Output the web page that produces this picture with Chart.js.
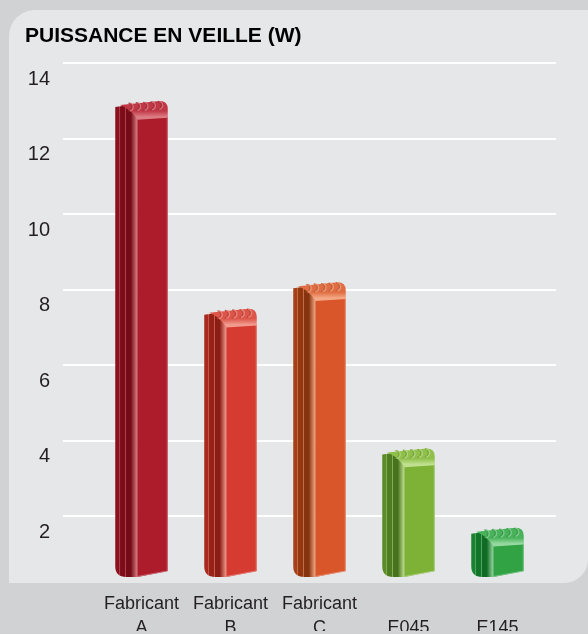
<!DOCTYPE html>
<html>
<head>
<meta charset="utf-8">
<script src="https://cdn.jsdelivr.net/npm/chart.js@4.4.1/dist/chart.umd.min.js"></script>
<style>
  html, body { margin: 0; padding: 0; background: #d1d2d4; }
  #wrap { width: 588px; height: 634px; position: relative; }
</style>
</head>
<body>
<div id="wrap"><canvas id="chart"></canvas></div>
<script>
const categories = [['Fabricant', 'A'], ['Fabricant', 'B'], ['Fabricant', 'C'], ['', 'E045'], ['', 'E145']];
const standbyWatts = [13, 7.5, 8.2, 3.8, 1.7];
const yTicks = [2, 4, 6, 8, 10, 12, 14];
const titleText = 'PUISSANCE EN VEILLE (W)';

// front face, side face, top cap, highlight
const barColors = [
    { front: '#ac1c2b', side: '#7e0c18', cap: '#c03845', hi: '#dc7c84' },
    { front: '#d53b30', side: '#972116', cap: '#dd5448', hi: '#f29a8e' },
    { front: '#d9562a', side: '#923710', cap: '#e06e42', hi: '#f4a885' },
    { front: '#7db236', side: '#4e7c21', cap: '#8fc049', hi: '#c0e090' },
    { front: '#31a345', side: '#127428', cap: '#48b35a', hi: '#95d8a0' }
];

const FONT = "'Liberation Sans', Arial, Helvetica, sans-serif";

function mix(a, b, t) {
    const pa = [1, 3, 5].map(i => parseInt(a.substr(i, 2), 16));
    const pb = [1, 3, 5].map(i => parseInt(b.substr(i, 2), 16));
    const m = pa.map((v, i) => Math.round(v + (pb[i] - v) * t));
    return 'rgb(' + m.join(',') + ')';
}

function drawBar(ctx, bar, c) {
    const { x, y, base, width } = bar.getProps(['x', 'y', 'base', 'width'], true);
    const L = x - width / 2, R = x + width / 2;
    const s = width * 0.42, F = L + s;
    const capD = 18, cr = 8, br = 11;

    // rounded side
    let g = ctx.createLinearGradient(L, 0, F, 0);
    const sideMid = mix(c.side, c.front, 0.3);
    const sideDark = mix(c.side, '#000000', 0.08);
    const stripe = mix(c.side, c.hi, 0.55);
    g.addColorStop(0, sideMid);
    g.addColorStop(0.17, sideMid);
    g.addColorStop(0.2, stripe);
    g.addColorStop(0.24, c.side);
    g.addColorStop(0.43, c.side);
    g.addColorStop(0.47, stripe);
    g.addColorStop(0.51, sideDark);
    g.addColorStop(0.7, sideDark);
    g.addColorStop(1, c.hi);
    ctx.beginPath();
    ctx.moveTo(L, y + 6);
    ctx.lineTo(F, y + 3);
    ctx.lineTo(F, base + 2);
    ctx.lineTo(L + br, base + 2);
    ctx.quadraticCurveTo(L, base + 2, L, base + 2 - br);
    ctx.closePath();
    ctx.fillStyle = g;
    ctx.fill();

    // front face
    ctx.beginPath();
    ctx.moveTo(F, y + capD);
    ctx.lineTo(R, y + capD - 2);
    ctx.lineTo(R, base - 4);
    ctx.lineTo(F, base + 2);
    ctx.closePath();
    ctx.fillStyle = c.front;
    ctx.fill();

    ctx.lineWidth = 1;
    ctx.strokeStyle = mix(c.front, '#ffffff', 0.35);
    ctx.beginPath();
    ctx.moveTo(R - 0.5, y + capD - 2);
    ctx.lineTo(R - 0.5, base - 4);
    ctx.lineTo(F, base + 1.5);
    ctx.stroke();

    // top cap
    g = ctx.createLinearGradient(0, y, 0, y + capD);
    g.addColorStop(0, c.cap);
    g.addColorStop(0.55, c.cap);
    g.addColorStop(0.88, c.hi);
    g.addColorStop(1, c.hi);
    ctx.beginPath();
    ctx.moveTo(L + s * 0.22, y + 4);
    ctx.lineTo(R - cr, y);
    ctx.quadraticCurveTo(R, y, R, y + cr);
    ctx.lineTo(R, y + capD - 2);
    ctx.lineTo(F, y + capD);
    ctx.quadraticCurveTo(F - s * 0.3, y + capD * 0.45, L + s * 0.22, y + 4);
    ctx.closePath();
    ctx.fillStyle = g;
    ctx.fill();

    // ridges on the cap
    const x0 = F - 8, x1 = R - cr - 1;
    for (let i = 0; i < 5; i++) {
        const cx = x0 + i * (x1 - x0) / 4;
        const cy = y + 6 - i * 0.4;
        ctx.lineWidth = 1.2;
        ctx.strokeStyle = mix(c.cap, '#000000', 0.15);
        ctx.beginPath();
        ctx.arc(cx - 1.5, cy, 4, -Math.PI * 0.45, Math.PI * 0.45);
        ctx.stroke();
        ctx.strokeStyle = mix(c.cap, '#ffffff', 0.3);
        ctx.beginPath();
        ctx.arc(cx, cy, 4, -Math.PI * 0.45, Math.PI * 0.45);
        ctx.stroke();
    }

    ctx.strokeStyle = c.hi;
    ctx.lineWidth = 1.5;
    ctx.beginPath();
    ctx.moveTo(F, y + capD);
    ctx.lineTo(R, y + capD - 2);
    ctx.stroke();
}

const panel = {
    id: 'panel',
    beforeDraw(chart) {
        const { ctx, width } = chart;
        ctx.save();
        ctx.fillStyle = '#d1d2d4';
        ctx.fillRect(0, 0, width, chart.height);
        const x0 = 9, y0 = 10, x1 = width, y1 = 583;
        ctx.beginPath();
        ctx.moveTo(x0, y1);
        ctx.arcTo(x0, y0, x1, y0, 26);
        ctx.lineTo(x1, y0);
        ctx.arcTo(x1, y1, x0, y1, 24);
        ctx.lineTo(x0, y1);
        ctx.closePath();
        ctx.fillStyle = '#e6e7e8';
        ctx.fill();
        ctx.restore();
    }
};

const gridLines = {
    id: 'gridLines',
    beforeDatasetsDraw(chart) {
        const { ctx, chartArea, scales } = chart;
        ctx.save();
        ctx.strokeStyle = '#ffffff';
        ctx.lineWidth = 2;
        yTicks.forEach(v => {
            const py = Math.round(scales.y.getPixelForValue(v));
            ctx.beginPath();
            ctx.moveTo(chartArea.left - 34, py);
            ctx.lineTo(chartArea.right + 14, py);
            ctx.stroke();
        });
        ctx.restore();
    }
};

const bars3d = {
    id: 'bars3d',
    afterDatasetsDraw(chart) {
        const ctx = chart.ctx;
        ctx.save();
        chart.getDatasetMeta(0).data.forEach((bar, i) => drawBar(ctx, bar, barColors[i]));
        ctx.restore();
    }
};

new Chart(document.getElementById('chart').getContext('2d'), {
    type: 'bar',
    data: {
        labels: categories,
        datasets: [{
            label: titleText,
            data: standbyWatts,
            base: 0.45,
            backgroundColor: 'rgba(0,0,0,0)',
            borderWidth: 0,
            categoryPercentage: 1,
            barPercentage: 0.59
        }]
    },
    options: {
        responsive: true,
        maintainAspectRatio: false,
        animation: false,
        devicePixelRatio: 1,
        layout: { padding: { top: 0, left: 25, right: 46, bottom: 0 } },
        plugins: {
            legend: { display: false },
            tooltip: { enabled: false },
            title: {
                display: true,
                text: titleText,
                align: 'start',
                color: '#000000',
                font: { family: FONT, size: 21, weight: 'bold' },
                padding: { top: 24, bottom: 14 }
            }
        },
        scales: {
            x: {
                afterFit: s => { s.height = 56; },
                grid: { display: false, drawTicks: false },
                border: { display: false },
                ticks: {
                    padding: 17,
                    color: '#231f20',
                    maxRotation: 0,
                    autoSkip: false,
                    font: { family: FONT, size: 18, lineHeight: 1.33 }
                }
            },
            y: {
                min: 0.45,
                max: 14,
                afterBuildTicks: s => { s.ticks = yTicks.map(v => ({ value: v })); },
                afterFit: s => { s.width = 72; },
                grid: { display: false, drawTicks: false },
                border: { display: false },
                ticks: {
                    padding: 47,
                    labelOffset: 16,
                    color: '#231f20',
                    font: { family: FONT, size: 20 }
                }
            }
        }
    },
    plugins: [panel, gridLines, bars3d]
});
</script>
</body>
</html>
